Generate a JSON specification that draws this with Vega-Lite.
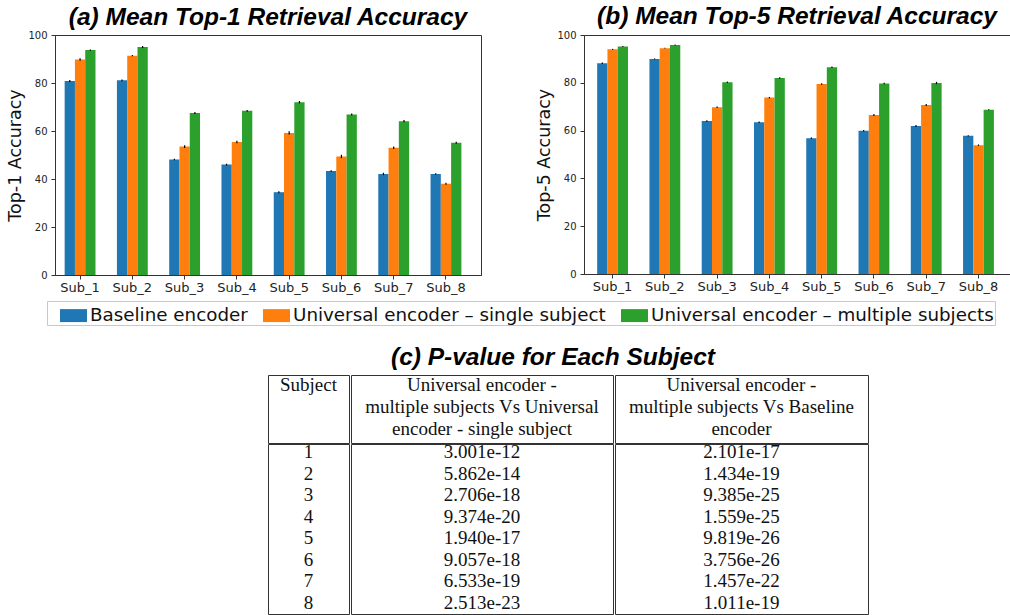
{
  "$schema": "https://vega.github.io/schema/vega-lite/v6.json",
  "background": "white",
  "padding": {"left": 6, "top": 3, "right": 0, "bottom": 0},
  "spacing": 50,
  "config": {
    "view": {"stroke": null},
    "font": "DejaVu Sans",
    "axis": {"grid": false, "domainColor": "#333333", "tickColor": "#333333", "labelColor": "#222222", "titleColor": "#111111", "labelFont": "DejaVu Sans", "titleFont": "DejaVu Sans", "titleFontWeight": "normal", "tickSize": 4, "domainWidth": 1},
    "axisX": {"labelFontSize": 13, "labelPadding": 2, "labelAngle": 0},
    "axisY": {"labelFontSize": 10, "labelPadding": 4, "titleFontSize": 17.5, "titlePadding": 3},
    "title": {"font": "Liberation Sans", "fontSize": 24.5, "fontWeight": "bold", "fontStyle": "italic", "color": "#000000", "anchor": "middle"},
    "legend": {"symbolType": "M-1,-0.48H1V0.48H-1Z", "symbolSize": 729, "symbolStrokeWidth": 0, "symbolOffset": 12, "labelFontSize": 18.3, "labelFont": "DejaVu Sans", "labelColor": "#111111", "labelOffset": 3, "columnPadding": 3, "padding": 1, "strokeColor": "#c8c8c8", "fillColor": "white", "labelLimit": 500}
  },
  "datasets": {
    "top1": [
      {"subject": "Sub_1", "encoder": "Baseline encoder", "value": 80.8, "lo": 80.4, "hi": 81.2},
      {"subject": "Sub_1", "encoder": "Universal encoder – single subject", "value": 89.8, "lo": 89.3, "hi": 90.3},
      {"subject": "Sub_1", "encoder": "Universal encoder – multiple subjects", "value": 93.7, "lo": 93.4, "hi": 94.0},
      {"subject": "Sub_2", "encoder": "Baseline encoder", "value": 81.1, "lo": 80.7, "hi": 81.5},
      {"subject": "Sub_2", "encoder": "Universal encoder – single subject", "value": 91.4, "lo": 91.1, "hi": 91.7},
      {"subject": "Sub_2", "encoder": "Universal encoder – multiple subjects", "value": 95.0, "lo": 94.6, "hi": 95.4},
      {"subject": "Sub_3", "encoder": "Baseline encoder", "value": 48.1, "lo": 47.8, "hi": 48.4},
      {"subject": "Sub_3", "encoder": "Universal encoder – single subject", "value": 53.5, "lo": 52.9, "hi": 54.1},
      {"subject": "Sub_3", "encoder": "Universal encoder – multiple subjects", "value": 67.5, "lo": 67.1, "hi": 67.9},
      {"subject": "Sub_4", "encoder": "Baseline encoder", "value": 46.0, "lo": 45.6, "hi": 46.4},
      {"subject": "Sub_4", "encoder": "Universal encoder – single subject", "value": 55.4, "lo": 54.9, "hi": 55.9},
      {"subject": "Sub_4", "encoder": "Universal encoder – multiple subjects", "value": 68.4, "lo": 68.0, "hi": 68.8},
      {"subject": "Sub_5", "encoder": "Baseline encoder", "value": 34.5, "lo": 34.1, "hi": 34.9},
      {"subject": "Sub_5", "encoder": "Universal encoder – single subject", "value": 59.2, "lo": 58.5, "hi": 59.9},
      {"subject": "Sub_5", "encoder": "Universal encoder – multiple subjects", "value": 72.0, "lo": 71.5, "hi": 72.5},
      {"subject": "Sub_6", "encoder": "Baseline encoder", "value": 43.3, "lo": 43.0, "hi": 43.6},
      {"subject": "Sub_6", "encoder": "Universal encoder – single subject", "value": 49.4, "lo": 48.7, "hi": 50.1},
      {"subject": "Sub_6", "encoder": "Universal encoder – multiple subjects", "value": 66.9, "lo": 66.5, "hi": 67.3},
      {"subject": "Sub_7", "encoder": "Baseline encoder", "value": 42.1, "lo": 41.6, "hi": 42.6},
      {"subject": "Sub_7", "encoder": "Universal encoder – single subject", "value": 53.0, "lo": 52.5, "hi": 53.5},
      {"subject": "Sub_7", "encoder": "Universal encoder – multiple subjects", "value": 64.1, "lo": 63.6, "hi": 64.6},
      {"subject": "Sub_8", "encoder": "Baseline encoder", "value": 42.1, "lo": 41.8, "hi": 42.4},
      {"subject": "Sub_8", "encoder": "Universal encoder – single subject", "value": 38.0, "lo": 37.6, "hi": 38.4},
      {"subject": "Sub_8", "encoder": "Universal encoder – multiple subjects", "value": 55.1, "lo": 54.7, "hi": 55.5}
    ],
    "top5": [
      {"subject": "Sub_1", "encoder": "Baseline encoder", "value": 88.2, "lo": 87.9, "hi": 88.5},
      {"subject": "Sub_1", "encoder": "Universal encoder – single subject", "value": 94.0, "lo": 93.8, "hi": 94.2},
      {"subject": "Sub_1", "encoder": "Universal encoder – multiple subjects", "value": 95.2, "lo": 95.0, "hi": 95.4},
      {"subject": "Sub_2", "encoder": "Baseline encoder", "value": 90.0, "lo": 89.8, "hi": 90.2},
      {"subject": "Sub_2", "encoder": "Universal encoder – single subject", "value": 94.5, "lo": 94.3, "hi": 94.7},
      {"subject": "Sub_2", "encoder": "Universal encoder – multiple subjects", "value": 95.8, "lo": 95.6, "hi": 96.0},
      {"subject": "Sub_3", "encoder": "Baseline encoder", "value": 64.0, "lo": 63.7, "hi": 64.3},
      {"subject": "Sub_3", "encoder": "Universal encoder – single subject", "value": 69.8, "lo": 69.5, "hi": 70.1},
      {"subject": "Sub_3", "encoder": "Universal encoder – multiple subjects", "value": 80.2, "lo": 79.9, "hi": 80.5},
      {"subject": "Sub_4", "encoder": "Baseline encoder", "value": 63.5, "lo": 63.2, "hi": 63.8},
      {"subject": "Sub_4", "encoder": "Universal encoder – single subject", "value": 73.8, "lo": 73.5, "hi": 74.1},
      {"subject": "Sub_4", "encoder": "Universal encoder – multiple subjects", "value": 82.0, "lo": 81.7, "hi": 82.3},
      {"subject": "Sub_5", "encoder": "Baseline encoder", "value": 56.8, "lo": 56.5, "hi": 57.1},
      {"subject": "Sub_5", "encoder": "Universal encoder – single subject", "value": 79.5, "lo": 79.2, "hi": 79.8},
      {"subject": "Sub_5", "encoder": "Universal encoder – multiple subjects", "value": 86.5, "lo": 86.2, "hi": 86.8},
      {"subject": "Sub_6", "encoder": "Baseline encoder", "value": 59.9, "lo": 59.6, "hi": 60.2},
      {"subject": "Sub_6", "encoder": "Universal encoder – single subject", "value": 66.5, "lo": 66.1, "hi": 66.9},
      {"subject": "Sub_6", "encoder": "Universal encoder – multiple subjects", "value": 79.7, "lo": 79.4, "hi": 80.0},
      {"subject": "Sub_7", "encoder": "Baseline encoder", "value": 61.9, "lo": 61.5, "hi": 62.3},
      {"subject": "Sub_7", "encoder": "Universal encoder – single subject", "value": 70.7, "lo": 70.3, "hi": 71.1},
      {"subject": "Sub_7", "encoder": "Universal encoder – multiple subjects", "value": 79.9, "lo": 79.4, "hi": 80.4},
      {"subject": "Sub_8", "encoder": "Baseline encoder", "value": 57.8, "lo": 57.5, "hi": 58.1},
      {"subject": "Sub_8", "encoder": "Universal encoder – single subject", "value": 53.9, "lo": 53.6, "hi": 54.2},
      {"subject": "Sub_8", "encoder": "Universal encoder – multiple subjects", "value": 68.7, "lo": 68.5, "hi": 68.9}
    ],
    "pvals": [
      {"s": "1", "p1": "3.001e-12", "p2": "2.101e-17"},
      {"s": "2", "p1": "5.862e-14", "p2": "1.434e-19"},
      {"s": "3", "p1": "2.706e-18", "p2": "9.385e-25"},
      {"s": "4", "p1": "9.374e-20", "p2": "1.559e-25"},
      {"s": "5", "p1": "1.940e-17", "p2": "9.819e-26"},
      {"s": "6", "p1": "9.057e-18", "p2": "3.756e-26"},
      {"s": "7", "p1": "6.533e-19", "p2": "1.457e-22"},
      {"s": "8", "p1": "2.513e-23", "p2": "1.011e-19"}
    ]
  },
  "vconcat": [
    {
      "spacing": 53,
      "hconcat": [
        {
          "width": 426, "height": 240,
          "title": {"text": "(a) Mean Top-1 Retrieval Accuracy", "offset": 0},
          "data": {"name": "top1"},
          "view": {"stroke": "#333333", "strokeWidth": 1},
          "encoding": {
            "x": {"field": "subject", "type": "nominal", "sort": null, "scale": {"paddingInner": 0.41, "paddingOuter": 0.28, "align": 0.33}, "axis": {"title": null}},
            "xOffset": {"field": "encoder", "type": "nominal", "sort": ["Baseline encoder", "Universal encoder – single subject", "Universal encoder – multiple subjects"]}
          },
          "layer": [
            {
              "mark": {"type": "bar"},
              "encoding": {
                "y": {"field": "value", "type": "quantitative", "scale": {"domain": [0, 100]}, "axis": {"title": "Top-1 Accuracy", "values": [0, 20, 40, 60, 80, 100]}},
                "color": {"field": "encoder", "type": "nominal", "scale": {"domain": ["Baseline encoder", "Universal encoder – single subject", "Universal encoder – multiple subjects"], "range": ["#1f77b4", "#ff7f0e", "#2ca02c"]}, "legend": {"title": null, "orient": "none", "legendX": -8, "legendY": 266, "direction": "horizontal"}}
              }
            },
            {
              "mark": {"type": "rule", "color": "#000000", "strokeWidth": 1.2},
              "encoding": {
                "y": {"field": "lo", "type": "quantitative"},
                "y2": {"field": "hi"}
              }
            }
          ]
        },
        {
          "width": 426, "height": 239,
          "title": {"text": "(b) Mean Top-5 Retrieval Accuracy", "offset": 1},
          "data": {"name": "top5"},
          "view": {"stroke": "#333333", "strokeWidth": 1},
          "encoding": {
            "x": {"field": "subject", "type": "nominal", "sort": null, "scale": {"paddingInner": 0.41, "paddingOuter": 0.28, "align": 0.45}, "axis": {"title": null}},
            "xOffset": {"field": "encoder", "type": "nominal", "sort": ["Baseline encoder", "Universal encoder – single subject", "Universal encoder – multiple subjects"]}
          },
          "layer": [
            {
              "mark": {"type": "bar"},
              "encoding": {
                "y": {"field": "value", "type": "quantitative", "scale": {"domain": [0, 100]}, "axis": {"title": "Top-5 Accuracy", "values": [0, 20, 40, 60, 80, 100]}},
                "color": {"field": "encoder", "type": "nominal", "scale": {"domain": ["Baseline encoder", "Universal encoder – single subject", "Universal encoder – multiple subjects"], "range": ["#1f77b4", "#ff7f0e", "#2ca02c"]}, "legend": {"title": null, "orient": "none", "legendX": -8, "legendY": 266, "direction": "horizontal"}}
              }
            },
            {
              "mark": {"type": "rule", "color": "#000000", "strokeWidth": 1.2},
              "encoding": {
                "y": {"field": "lo", "type": "quantitative"},
                "y2": {"field": "hi"}
              }
            }
          ]
        }
      ]
    },
    {
      "spacing": 0,
      "hconcat": [
        {"width": 212, "height": 10, "data": {"values": []}, "mark": "point"},
        {
          "spacing": -3,
          "title": {"text": "(c) P-value for Each Subject", "offset": 4, "dx": -15, "anchor": "middle"},
          "vconcat": [
            {
              "spacing": 0,
              "hconcat": [
                {
                  "width": 81, "height": 68,
                  "view": {"stroke": "#333333", "strokeWidth": 1},
                  "data": {"values": [{"k": "h", "t": "Subject"}]},
                  "mark": {"type": "text", "font": "Liberation Serif", "fontSize": 19, "lineHeight": 22, "lineBreak": "\n", "baseline": "middle", "dy": -24, "color": "#111111"},
                  "encoding": {"text": {"field": "t"}, "x": {"field": "k", "type": "nominal", "axis": null}, "y": {"field": "k", "type": "nominal", "axis": null}}
                },
                {
                  "width": 262, "height": 68,
                  "view": {"stroke": "#333333", "strokeWidth": 1},
                  "data": {"values": [{"k": "h", "t": "Universal encoder -\nmultiple subjects Vs Universal\nencoder - single subject"}]},
                  "mark": {"type": "text", "font": "Liberation Serif", "fontSize": 19, "lineHeight": 22, "lineBreak": "\n", "baseline": "middle", "dy": -24, "color": "#111111"},
                  "encoding": {"text": {"field": "t"}, "x": {"field": "k", "type": "nominal", "axis": null}, "y": {"field": "k", "type": "nominal", "axis": null}}
                },
                {
                  "width": 253, "height": 68,
                  "view": {"stroke": "#333333", "strokeWidth": 1},
                  "data": {"values": [{"k": "h", "t": "Universal encoder -\nmultiple subjects Vs Baseline\nencoder"}]},
                  "mark": {"type": "text", "font": "Liberation Serif", "fontSize": 19, "lineHeight": 22, "lineBreak": "\n", "baseline": "middle", "dy": -24, "color": "#111111"},
                  "encoding": {"text": {"field": "t"}, "x": {"field": "k", "type": "nominal", "axis": null}, "y": {"field": "k", "type": "nominal", "axis": null}}
                }
              ]
            },
            {
              "spacing": 0,
              "hconcat": [
                {
                  "width": 81, "height": 170,
                  "view": {"stroke": "#333333", "strokeWidth": 1},
                  "data": {"name": "pvals"},
                  "mark": {"type": "text", "font": "Liberation Serif", "fontSize": 19, "baseline": "middle", "color": "#111111"},
                  "encoding": {"text": {"field": "s"}, "x": {"datum": "c", "type": "nominal", "axis": null}, "y": {"field": "s", "type": "ordinal", "sort": null, "scale": {"type": "point", "padding": 0.45, "align": 0.43}, "axis": null}}
                },
                {
                  "width": 262, "height": 170,
                  "view": {"stroke": "#333333", "strokeWidth": 1},
                  "data": {"name": "pvals"},
                  "mark": {"type": "text", "font": "Liberation Serif", "fontSize": 19, "baseline": "middle", "color": "#111111"},
                  "encoding": {"text": {"field": "p1"}, "x": {"datum": "c", "type": "nominal", "axis": null}, "y": {"field": "s", "type": "ordinal", "sort": null, "scale": {"type": "point", "padding": 0.45, "align": 0.43}, "axis": null}}
                },
                {
                  "width": 253, "height": 170,
                  "view": {"stroke": "#333333", "strokeWidth": 1},
                  "data": {"name": "pvals"},
                  "mark": {"type": "text", "font": "Liberation Serif", "fontSize": 19, "baseline": "middle", "color": "#111111"},
                  "encoding": {"text": {"field": "p2"}, "x": {"datum": "c", "type": "nominal", "axis": null}, "y": {"field": "s", "type": "ordinal", "sort": null, "scale": {"type": "point", "padding": 0.45, "align": 0.43}, "axis": null}}
                }
              ]
            }
          ]
        }
      ]
    }
  ]
}
